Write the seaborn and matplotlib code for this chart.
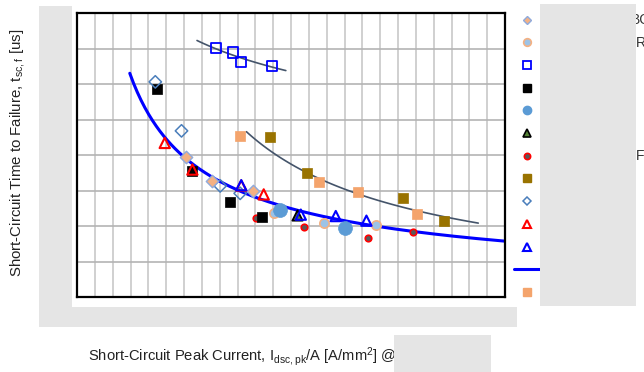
import numpy as np
import matplotlib
matplotlib.use("Agg")
import matplotlib.pyplot as plt
from matplotlib.lines import Line2D
from matplotlib.patches import Rectangle
import seaborn as sns

# values are in grid units: the tick labels of the source chart are masked
# ---- series data -----------------------------------------------------------
or_diamond_x = [6.11, 7.59, 9.85]
or_diamond_y = [3.95, 3.28, 2.99]

lb_circle_x = [11.05, 13.85, 16.74]
lb_circle_y = [2.37, 2.09, 2.02]

open_square_x = [7.78, 8.75, 9.18, 10.95]
open_square_y = [7.01, 6.89, 6.61, 6.51]

black_square_x = [4.49, 6.47, 8.56, 10.40]
black_square_y = [5.87, 3.56, 2.68, 2.24]

big_circle_x = [11.40, 15.05]
big_circle_y = [2.46, 1.94]

green_tri_x = [12.36]
green_tri_y = [2.30]

red_circle_x = [10.06, 12.71, 16.29, 18.84]
red_circle_y = [2.23, 1.98, 1.67, 1.84]

brown_square_x = [10.81, 12.87, 18.28, 20.58]
brown_square_y = [4.50, 3.48, 2.78, 2.14]

open_diamond_x = [4.39, 5.86, 8.03, 9.15]
open_diamond_y = [6.06, 4.68, 3.13, 2.92]

red_tri_x = [4.92, 6.47, 9.21, 10.47]
red_tri_y = [4.34, 3.59, 3.14, 2.89]

blue_tri_x = [9.21, 12.55, 14.51, 16.23]
blue_tri_y = [3.15, 2.32, 2.28, 2.15]

orange_square_x = [9.13, 13.56, 15.76, 19.04]
orange_square_y = [4.54, 3.23, 2.95, 2.34]

# model curve y = a * x^b (blue line)
model_a, model_b = 12.94, -0.663
model_range = (2.96, 24.0)

# ---- figure ------------------------------------------------------------------
sns.set_theme(style="white")
plt.rcParams['font.family'] = ['Liberation Sans', 'DejaVu Sans']
plt.rcParams['mathtext.default'] = 'regular'

W, H = 644, 372
fig = plt.figure(figsize=(W / 100, H / 100), dpi=100)
ax = fig.add_axes([77 / W, 1 - 297 / H, (505 - 77) / W, (297 - 13) / H])


def power_fit(xs, ys):
    b, loga = np.polyfit(np.log(xs), np.log(ys), 1)
    return np.exp(loga), b


# trend lines (power fits) and model line
a1, b1 = power_fit(open_square_x, open_square_y)
xt1 = np.linspace(6.73, 11.71, 60)
sns.lineplot(x=xt1, y=a1 * xt1 ** b1, color="#44546A", lw=1.2, ax=ax, zorder=2)

a2, b2 = power_fit(brown_square_x + orange_square_x, brown_square_y + orange_square_y)
xt2 = np.linspace(9.5, 22.5, 80)
sns.lineplot(x=xt2, y=a2 * xt2 ** b2, color="#44546A", lw=1.2, ax=ax, zorder=2)

xm = np.linspace(model_range[0], model_range[1], 200)
sns.lineplot(x=xm, y=model_a * xm ** model_b, color="#0000FF", lw=2.2, ax=ax, zorder=2)

draw_order = [
    (open_square_x, open_square_y, dict(marker="s", s=55, facecolor="none", edgecolor="#0000FF", linewidth=1.3)),
    (orange_square_x, orange_square_y, dict(marker="s", s=50, color="#F4A46C", edgecolor="#F4A46C", linewidth=0.5)),
    (brown_square_x, brown_square_y, dict(marker="s", s=50, color="#997300", edgecolor="#997300", linewidth=0.5)),
    (red_circle_x, red_circle_y, dict(marker="o", s=22, color="#595959", edgecolor="#FF0000", linewidth=1.2)),
    (black_square_x, black_square_y, dict(marker="s", s=45, color="black", edgecolor="black", linewidth=0.5)),
    (open_diamond_x, open_diamond_y, dict(marker="D", s=40, facecolor="none", edgecolor="#4A7EBB", linewidth=1.1)),
    (or_diamond_x, or_diamond_y, dict(marker="D", s=40, color="#F4B183", edgecolor="#8FAADC", linewidth=1.0)),
    (lb_circle_x, lb_circle_y, dict(marker="o", s=45, color="#9DC3E6", edgecolor="#F4B183", linewidth=1.2)),
    (big_circle_x, big_circle_y, dict(marker="o", s=100, color="#5B9BD5", edgecolor="#5B9BD5", linewidth=0.5)),
    (red_tri_x, red_tri_y, dict(marker="^", s=55, facecolor="none", edgecolor="#FF0000", linewidth=1.5)),
    (green_tri_x, green_tri_y, dict(marker="^", s=55, color="#548235", edgecolor="black", linewidth=1.3)),
    (blue_tri_x, blue_tri_y, dict(marker="^", s=55, facecolor="none", edgecolor="#0000FF", linewidth=1.5)),
]
for xs, ys, kw in draw_order:
    sns.scatterplot(x=xs, y=ys, ax=ax, zorder=3, **kw)

ax.set_xlim(0, 24)
ax.set_ylim(0, 8)
ax.set_xticks(np.arange(0, 25, 1))
ax.set_yticks(np.arange(0, 9, 1))
ax.set_xticklabels([])
ax.set_yticklabels([])
ax.tick_params(length=0)
ax.xaxis.grid(True, color="#C8C8C8", lw=1.2)
ax.yaxis.grid(True, color="#B4B4B4", lw=1.2)
ax.set_axisbelow(True)
for sp in ax.spines.values():
    sp.set_color("black")
    sp.set_linewidth(1.6)
ax.set_xlabel("")
ax.set_ylabel("")

# legend (labels hidden behind the grey box in the source)
def mk(marker, ms, fc, ec, mew=1.0):
    return Line2D([], [], marker=marker, linestyle="none", markersize=ms,
                  markerfacecolor=fc, markeredgecolor=ec, markeredgewidth=mew)

handles = [
    mk("D", 4.5, "#F4B183", "#8FAADC"),
    mk("o", 5.5, "#9DC3E6", "#F4B183", 1.2),
    mk("s", 5.5, "none", "#0000FF", 1.3),
    mk("s", 5.5, "black", "black"),
    mk("o", 6, "#5B9BD5", "#5B9BD5"),
    mk("^", 5.5, "#548235", "black", 1.2),
    mk("o", 4.5, "#595959", "#FF0000", 1.2),
    mk("s", 5.5, "#997300", "#997300"),
    mk("D", 4.5, "none", "#4A7EBB", 1.1),
    mk("^", 5.5, "none", "#FF0000", 1.5),
    mk("^", 5.5, "none", "#0000FF", 1.5),
    Line2D([], [], color="#0000FF", lw=2.2),
    mk("s", 6, "#F4A46C", "#F4A46C"),
]
fig.legend(handles, [""] * len(handles), loc="upper left",
           bbox_to_anchor=(514 / W, 1 - 15 / H), frameon=False, fontsize=9,
           labelspacing=0.855, handlelength=2.08, handletextpad=0.5,
           borderpad=0, borderaxespad=0)

# legend label fragments that stick out past the grey box
fig.text(631 / W, 1 - 20 / H, "BC", fontsize=10, va="center", ha="left", color="#333333")
fig.text(636 / W, 1 - 43 / H, "R", fontsize=10, va="center", ha="left", color="#333333")
fig.text(636 / W, 1 - 156 / H, "F", fontsize=10, va="center", ha="left", color="#333333")

# axis titles
fig.text(18 / W, 1 - 153 / H, "Short-Circuit Time to Failure, t$_{sc,f}$ [us]",
         rotation=90, fontsize=10.8, ha="center", va="center", color="#222222")
fig.text(88 / W, 1 - 357 / H, "Short-Circuit Peak Current, I$_{dsc,pk}$/A [A/mm$^{2}$] @",
         fontsize=10.6, ha="left", va="center", color="#222222")

# grey masking boxes
def grey_box(x0, y0, x1, y1):
    fig.add_artist(Rectangle((x0 / W, 1 - y1 / H), (x1 - x0) / W, (y1 - y0) / H,
                             transform=fig.transFigure, facecolor="#E5E5E5",
                             edgecolor="none", zorder=20))

grey_box(39, 6, 72, 327)
grey_box(39, 307, 517, 327)
grey_box(394, 335, 491, 372)
grey_box(540, 4, 636, 306)

fig.savefig("out.png", dpi=100)
